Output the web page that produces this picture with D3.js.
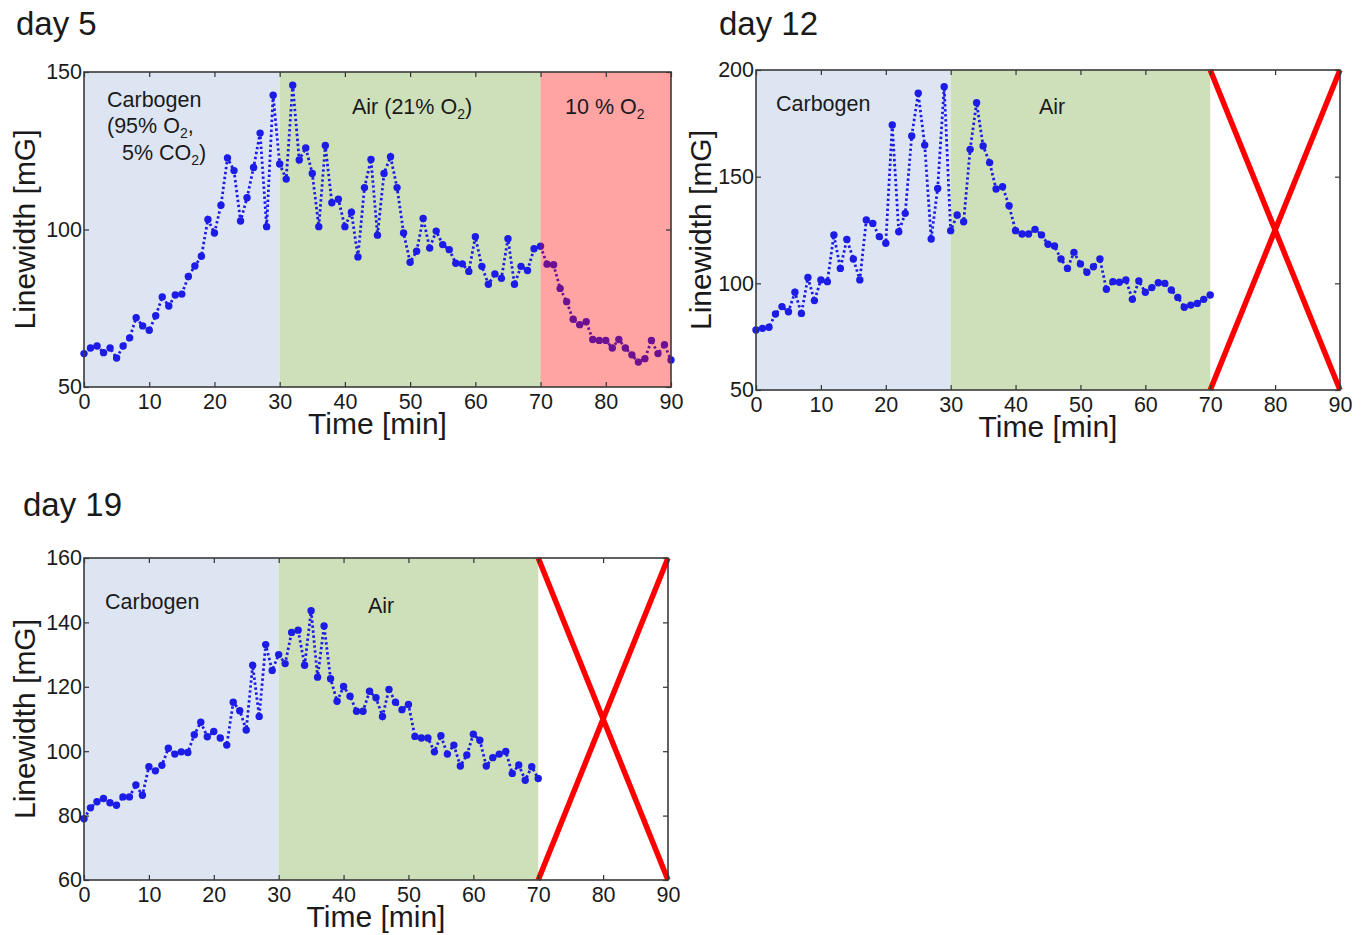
<!DOCTYPE html>
<html>
<head>
<meta charset="utf-8">
<script src="https://cdn.jsdelivr.net/npm/d3@7"></script>
<style>
  body { margin: 0; background: #fff; }
  svg text { font-family: "Liberation Sans", Arial, Helvetica, sans-serif; fill: #1a1a1a; }
</style>
</head>
<body>
<script>
// minutes 0..90 (one reading per minute)
var day5 = [
  60.6, 62.4, 63.0, 60.9, 62.4, 59.2, 63.0, 65.6, 72.0, 69.4,
  68.0, 72.6, 78.6, 75.7, 79.2, 79.5, 85.1, 88.4, 91.5, 103.2,
  98.9, 107.7, 122.7, 118.7, 102.7, 110.1, 119.7, 130.6, 100.9, 142.6,
  120.8, 116.0, 145.8, 122.1, 125.9, 117.8, 100.9, 126.7, 108.5, 109.6,
  100.9, 105.5, 91.3, 113.3, 122.2, 98.2, 117.8, 123.1, 113.3, 98.9,
  89.6, 93.1, 103.5, 94.1, 99.5, 95.2, 93.6, 89.3, 89.1, 86.7,
  97.7, 88.3, 82.6, 85.9, 84.5, 97.1, 82.6, 88.3, 87.0, 93.9,
  94.7, 89.0, 88.8, 81.3, 77.1, 71.5, 69.8, 70.7, 65.1, 64.8,
  64.8, 62.4, 65.1, 62.4, 60.2, 57.9, 59.0, 64.8, 60.6, 63.4,
  58.6
];
// minutes 0..70
var day12 = [
  78.1, 78.9, 79.4, 85.6, 89.1, 86.7, 95.8, 85.9, 102.7, 91.9,
  101.6, 100.8, 122.7, 107.0, 120.6, 111.4, 101.6, 129.7, 128.1, 121.9,
  118.8, 174.2, 124.2, 132.8, 169.1, 189.1, 164.8, 120.8, 144.5, 192.2,
  124.7, 132.0, 128.9, 162.8, 184.7, 164.4, 156.6, 144.2, 145.3, 136.4,
  124.7, 123.1, 123.1, 125.3, 122.7, 118.3, 117.5, 111.4, 107.0, 114.5,
  109.1, 105.2, 107.8, 111.4, 97.2, 100.8, 100.5, 101.6, 92.5, 101.1,
  95.8, 98.0, 100.3, 100.0, 96.9, 93.4, 88.8, 89.8, 90.6, 92.5,
  94.5
];
// minutes 0..70
var day19 = [
  79.0, 82.4, 84.3, 85.3, 84.0, 83.2, 85.8, 85.8, 89.5, 86.3,
  95.2, 93.9, 95.6, 100.9, 99.1, 99.8, 99.6, 105.1, 109.0, 104.5,
  106.1, 104.1, 101.9, 115.2, 112.6, 106.6, 126.7, 110.8, 133.1, 125.1,
  130.0, 127.2, 136.9, 137.6, 126.7, 143.6, 123.0, 138.9, 122.5, 115.5,
  120.1, 117.1, 112.4, 112.4, 118.6, 116.6, 110.8, 119.2, 115.2, 112.9,
  114.5, 104.6, 104.1, 104.1, 99.8, 104.8, 99.1, 101.9, 95.4, 98.8,
  105.3, 103.4, 95.4, 98.0, 99.1, 99.9, 93.1, 95.7, 91.0, 95.2,
  91.5
];

var xTicks = [0, 10, 20, 30, 40, 50, 60, 70, 80, 90];
var yTicks5 = [50, 100, 150];
var yTicks12 = [50, 100, 150, 200];
var yTicks19 = [60, 80, 100, 120, 140, 160];

// phases: [start, end, kind]
var phases5 = [[0, 30, "carb"], [30, 70, "air"], [70, 90, "low"]];
var phases12 = [[0, 30, "carb"], [30, 70, "air"], [70, 90, "x"]];
var phases19 = [[0, 30, "carb"], [30, 70, "air"], [70, 90, "x"]];

var svg = d3.select("body").append("svg")
    .attr("width", 1371)
    .attr("height", 935);

var fills = {carb: "#dde5f3", air: "#cde0b9"};

function drawPanel(cfg) {
    var x = d3.scaleLinear().domain([0, 90]).range([cfg.left, cfg.right]);
    var y = d3.scaleLinear().domain(cfg.yDomain).range([cfg.bottom, cfg.top]);
    var g = svg.append("g");

    // background phases (under the data)
    cfg.phases.forEach(function (p) {
        if (fills[p[2]]) {
            g.append("rect")
                .attr("x", x(p[0])).attr("y", cfg.top)
                .attr("width", x(p[1]) - x(p[0])).attr("height", cfg.bottom - cfg.top)
                .attr("fill", fills[p[2]]);
        }
    });

    var pts = cfg.data.map(function (v, i) { return [i, v]; });

    g.append("path")
        .datum(pts)
        .attr("fill", "none")
        .attr("stroke", "#1c1ce6")
        .attr("stroke-width", 2.8)
        .attr("stroke-dasharray", "2.4,2.6")
        .attr("d", d3.line().x(function (d) { return x(d[0]); }).y(function (d) { return y(d[1]); }));

    g.selectAll("circle.pt").data(pts).enter().append("circle")
        .attr("class", "pt")
        .attr("cx", function (d) { return x(d[0]); })
        .attr("cy", function (d) { return y(d[1]); })
        .attr("r", 3.7)
        .attr("fill", "#1c1ce6");

    // hypoxia phase sits over the data, as in the original figure
    cfg.phases.forEach(function (p) {
        if (p[2] == "low") {
            g.append("rect")
                .attr("x", x(p[0])).attr("y", cfg.top)
                .attr("width", x(p[1]) - x(p[0])).attr("height", cfg.bottom - cfg.top)
                .attr("fill", "#ff0000")
                .attr("opacity", 0.36);
        }
        if (p[2] == "x") {
            var d0 = cfg.yDomain;
            g.append("line")
                .attr("x1", x(p[0])).attr("y1", y(d0[1]))
                .attr("x2", x(p[1])).attr("y2", y(d0[0]))
                .attr("stroke", "#ff0000").attr("stroke-width", 5.5);
            g.append("line")
                .attr("x1", x(p[0])).attr("y1", y(d0[0]))
                .attr("x2", x(p[1])).attr("y2", y(d0[1]))
                .attr("stroke", "#ff0000").attr("stroke-width", 5.5);
        }
    });

    // axes, ticks pointing inward
    var xa = g.append("g").attr("transform", "translate(0," + cfg.bottom + ")")
        .call(d3.axisBottom(x).tickValues(xTicks).tickSize(-5).tickPadding(7));
    var xt = g.append("g").attr("transform", "translate(0," + cfg.top + ")")
        .call(d3.axisTop(x).tickValues(xTicks).tickSize(-5).tickFormat(""));
    var ya = g.append("g").attr("transform", "translate(" + cfg.left + ",0)")
        .call(d3.axisLeft(y).tickValues(cfg.yTicks).tickSize(-5).tickPadding(2));
    var yr = g.append("g").attr("transform", "translate(" + cfg.right + ",0)")
        .call(d3.axisRight(y).tickValues(cfg.yTicks).tickSize(-5).tickFormat(""));

    [xa, xt, ya, yr].forEach(function (a) {
        a.select(".domain").remove();
        a.selectAll(".tick line").attr("stroke", "#333").attr("stroke-width", 1.2);
        a.selectAll("text").attr("font-size", 21.5).attr("fill", "#1a1a1a")
            .style("font-family", "'Liberation Sans', Arial, sans-serif");
    });

    g.append("rect")
        .attr("x", cfg.left).attr("y", cfg.top)
        .attr("width", cfg.right - cfg.left).attr("height", cfg.bottom - cfg.top)
        .attr("fill", "none").attr("stroke", "#3a3a3a").attr("stroke-width", 1.6);

    // labels
    svg.append("text").attr("x", cfg.titleX).attr("y", cfg.titleY)
        .attr("font-size", 33).text(cfg.title);

    svg.append("text")
        .attr("x", (cfg.left + cfg.right) / 2).attr("y", cfg.bottom + 47)
        .attr("text-anchor", "middle").attr("font-size", 30)
        .text("Time [min]");

    svg.append("text")
        .attr("transform", "translate(" + cfg.ylabX + "," + (cfg.top + cfg.bottom) / 2 + ") rotate(-90)")
        .attr("text-anchor", "middle").attr("font-size", 30)
        .text("Linewidth [mG]");

    cfg.notes.forEach(function (n) {
        var t = svg.append("text").attr("x", n[0]).attr("y", n[1]).attr("font-size", 21.5);
        n[2].forEach(function (part) {
            var s = t.append("tspan").text(part[0]);
            if (part[1]) s.attr("font-size", 14).attr("dy", 5);
            else if (part[2]) s.attr("dy", -5);
        });
    });
}

drawPanel({
    title: "day 5", titleX: 16, titleY: 35,
    left: 84, right: 671, top: 72, bottom: 387,
    yDomain: [50, 150], yTicks: yTicks5, ylabX: 35,
    data: day5, phases: phases5,
    notes: [
        [107, 107, [["Carbogen"]]],
        [107, 133, [["(95% O"], ["2", true], [",", false, true]]],
        [122, 160, [["5% CO"], ["2", true], [")", false, true]]],
        [352, 114, [["Air (21% O"], ["2", true], [")", false, true]]],
        [565, 114, [["10 % O"], ["2", true]]]
    ]
});

drawPanel({
    title: "day 12", titleX: 719, titleY: 35,
    left: 756, right: 1340, top: 70, bottom: 390,
    yDomain: [50, 200], yTicks: yTicks12, ylabX: 711,
    data: day12, phases: phases12,
    notes: [
        [776, 111, [["Carbogen"]]],
        [1039, 114, [["Air"]]]
    ]
});

drawPanel({
    title: "day 19", titleX: 23, titleY: 516,
    left: 84, right: 668, top: 558, bottom: 880,
    yDomain: [60, 160], yTicks: yTicks19, ylabX: 35,
    data: day19, phases: phases19,
    notes: [
        [105, 609, [["Carbogen"]]],
        [368, 613, [["Air"]]]
    ]
});
</script>
</body>
</html>
